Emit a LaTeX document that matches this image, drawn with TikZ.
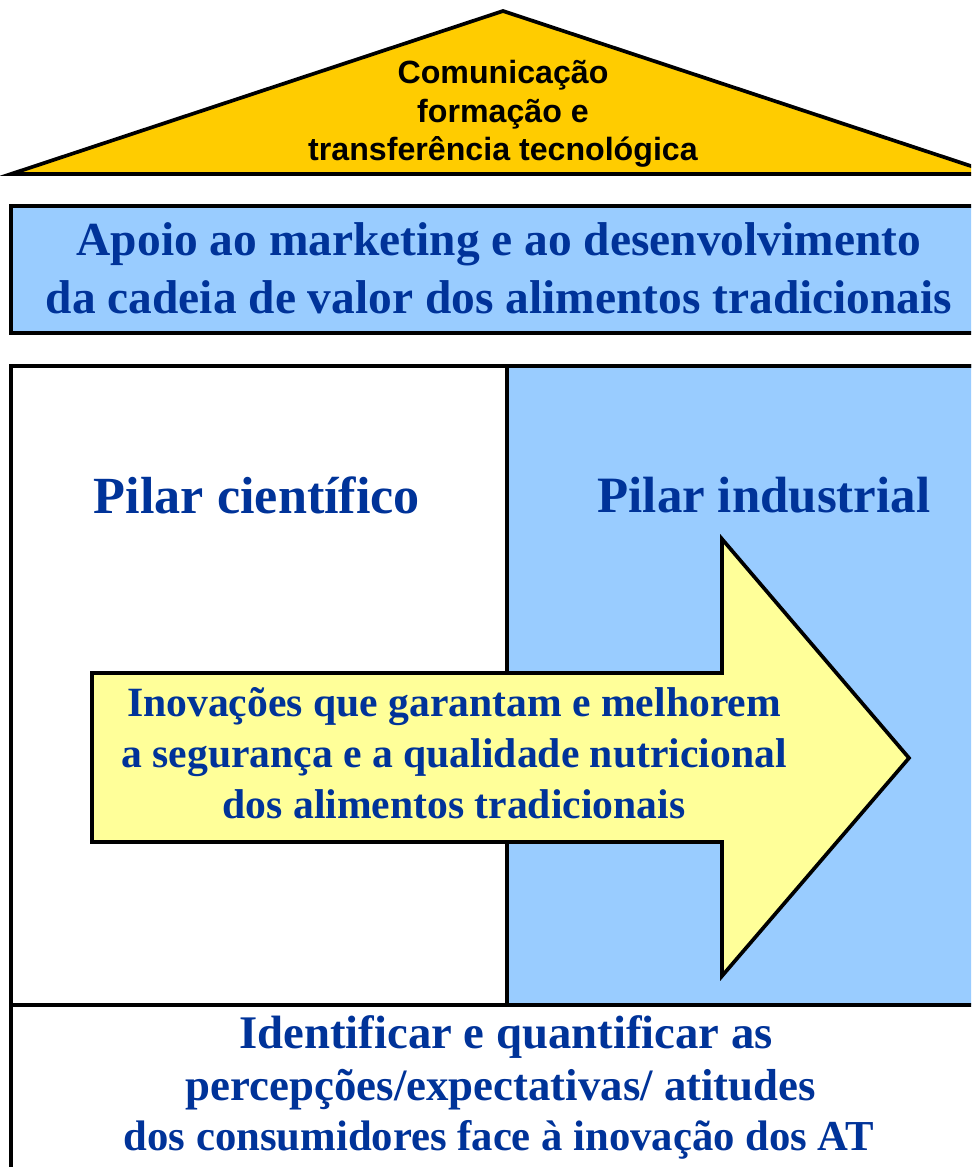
\documentclass[tikz,border=0pt]{standalone}
\usepackage{fontspec}
\setmainfont{Liberation Serif}
\newfontfamily\arialb{Liberation Sans}[BoldFont={* Bold}]
\definecolor{roofc}{HTML}{FFCC00}
\definecolor{boxblue}{HTML}{99CCFF}
\definecolor{arrowy}{HTML}{FFFF99}
\definecolor{txtblue}{HTML}{003399}
\tikzset{
  outline/.style={draw=black, line width=2.1pt, line join=miter},
  serift/.style={text=txtblue, font=\bfseries, align=center, inner sep=0pt},
}
\begin{document}
\begin{tikzpicture}[x=0.02cm, y=-0.02cm]
\useasboundingbox (0,0) rectangle (971,1167);
\begin{scope}
\clip (0,0) rectangle (971,1167);
% roof
\draw[outline, fill=roofc] (11,174) -- (503,11) -- (995,174) -- cycle;
% marketing box
\draw[outline, fill=boxblue] (11,206) rectangle (1000,333);
% main box
\draw[outline, fill=white] (11,366) rectangle (1000,1200);
\fill[boxblue] (507,366) rectangle (1000,1005);
\draw[outline] (11,366) -- (1000,366);
\draw[outline] (507,366) -- (507,1005);
\draw[outline] (11,1005) -- (1000,1005);
% arrow
\draw[outline, fill=arrowy] (92,673) -- (722,673) -- (722,539) -- (909,758) -- (722,976) -- (722,842) -- (92,842) -- cycle;
\end{scope}
% texts
\node[inner sep=0pt, align=center, font=\arialb\bfseries\fontsize{18.3}{22}\selectfont] (roof) at (503,114) {Comunicação\\formação e\\transferência tecnológica};
\node[serift, font=\bfseries\fontsize{27}{32.8}\selectfont] (mkt) at (499,268) {Apoio ao marketing e ao desenvolvimento\\da cadeia de valor dos alimentos tradicionais};
\node[serift, font=\bfseries\fontsize{29.7}{35}\selectfont] (sci) at (257,495) {Pilar científico};
\node[serift, font=\bfseries\fontsize{29}{35}\selectfont] (ind) at (764,495) {Pilar industrial};
\node[serift, font=\bfseries\fontsize{23.7}{28.9}\selectfont] (inov) at (454,753) {Inovações que garantam e melhorem\\a segurança e a qualidade nutricional\\dos alimentos tradicionais};
\node[serift, font=\bfseries\fontsize{26.6}{32}\selectfont] (bot1) at (506,1037) {Identificar e quantificar as};
\node[serift, font=\bfseries\fontsize{25.5}{30}\selectfont] (bot2) at (501,1090) {percepções/expectativas/ atitudes};
\node[serift, font=\bfseries\fontsize{24.3}{30}\selectfont] (bot3) at (499,1140) {dos consumidores face à inovação dos AT};
\end{tikzpicture}
\end{document}
